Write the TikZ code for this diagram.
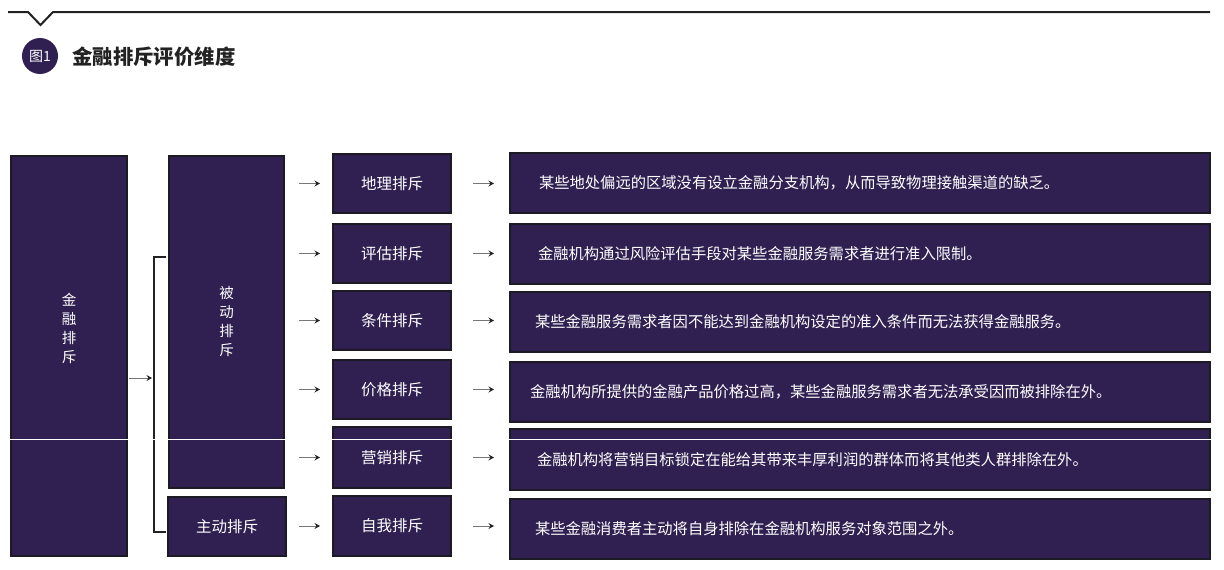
\documentclass[tikz,border=0pt]{standalone}
\usepackage{fontspec}
\setmainfont{Noto Sans CJK SC}
\usetikzlibrary{positioning, arrows.meta}

\definecolor{boxpurple}{HTML}{302052}
\definecolor{boxedge}{HTML}{1C1A22}
\definecolor{linegray}{HTML}{777777}
\definecolor{titleblack}{HTML}{222222}

\tikzset{
  box/.style={draw=boxedge, line width=2pt, fill=boxpurple, text=white, inner sep=0pt, anchor=north west},
  kind/.style={box, minimum width=118pt, minimum height=59pt, font=\fontsize{15.5}{15}\selectfont},
  desc/.style={box, minimum width=700pt, minimum height=60pt, text width=654pt, inner xsep=23pt, align=left, font=\fontsize{15.3}{15}\selectfont},
  vtext/.style={text=white, align=center, font=\fontsize{14.5}{19}\selectfont},
  arr/.style={-{Stealth[length=5.5pt, width=6pt, inset=2pt, titleblack]}, linegray, line width=0.9pt},
}

\begin{document}
\begin{tikzpicture}[x=1pt, y={(0pt,-1pt)}]
  \useasboundingbox (0,0) rectangle (1224,570);

  % Heading
  \draw[line width=2pt, titleblack] (8,12) -- (28,12) -- (40.5,25) -- (53,12) -- (1210,12);
  \node[circle, fill=boxpurple, minimum size=36pt, inner sep=0pt, text=white, font=\fontsize{14}{14}\selectfont] (fig) at (40,56) {图1};
  \node[anchor=west, inner sep=0pt, text=titleblack, font=\fontsize{20.4}{20}\selectfont\bfseries] (title) at (72,57) {金融排斥评价维度};

  % Left column
  \node[box, minimum width=116pt, minimum height=400pt] (fe) at (10,155) {};
  \node[vtext] (fetext) at ([yshift=28pt]fe.center) {金\\融\\排\\斥};
  \node[box, vtext, minimum width=115pt, minimum height=332pt] (bd) at (168,155) {被\\动\\排\\斥};
  \node[box, minimum width=118pt, minimum height=59pt, font=\fontsize{15.5}{15}\selectfont] (zd) at (167,496) {主动排斥};

  % Kinds of exclusion
  \node[kind] (m1) at (332,153) {地理排斥};
  \node[kind] (m2) at (332,223) {评估排斥};
  \node[kind] (m3) at (332,290) {条件排斥};
  \node[kind] (m4) at (332,359) {价格排斥};
  \node[kind, minimum height=61pt] (m5) at (332,426) {营销排斥};
  \node[kind, minimum height=60pt] (m6) at (332,495) {自我排斥};

  % Descriptions
  \node[desc, inner xsep=29pt, text width=642pt] (d1) at (509,152) {某些地处偏远的区域没有设立金融分支机构，从而导致物理接触渠道的缺乏。};
  \node[desc, inner xsep=28pt, text width=644pt] (d2) at (509,223) {金融机构通过风险评估手段对某些金融服务需求者进行准入限制。};
  \node[desc, inner xsep=25pt, text width=650pt] (d3) at (509,291) {某些金融服务需求者因不能达到金融机构设定的准入条件而无法获得金融服务。};
  \node[desc, inner xsep=20pt, text width=660pt] (d4) at (509,361) {金融机构所提供的金融产品价格过高，某些金融服务需求者无法承受因而被排除在外。};
  \node[desc, inner xsep=27pt, text width=646pt, minimum height=61pt] (d5) at (509,428) {金融机构将营销目标锁定在能给其带来丰厚利润的群体而将其他类人群排除在外。};
  \node[desc, inner xsep=25pt, text width=650pt] (d6) at (509,498) {某些金融消费者主动将自身排除在金融机构服务对象范围之外。};

  % Bracket and arrows
  \coordinate (bt) at (166,257);
  \coordinate (bb) at (166,532);
  \coordinate (bm) at (154,378);
  \draw[line width=1.5pt, titleblack] (bt) -- (bt -| bm) -- (bb -| bm) -- (bb);
  \draw[arr, shorten <=1pt, shorten >=2pt] (fe.east |- bm) -- (bm);
  \foreach \i in {1,...,5}
    \draw[arr, shorten <=14pt, shorten >=12pt] (bd.east |- m\i.west) -- (m\i.west);
  \draw[arr, shorten <=12pt, shorten >=12pt] (zd.east |- m6.west) -- (m6.west);
  \foreach \i in {1,...,6}
    \draw[arr, shorten <=21pt, shorten >=15pt] (m\i.east) -- (m\i.east -| d\i.west);

  % Scan line
  \draw[white, line width=1pt] (8,439) -- (1212,439);
\end{tikzpicture}
\end{document}
